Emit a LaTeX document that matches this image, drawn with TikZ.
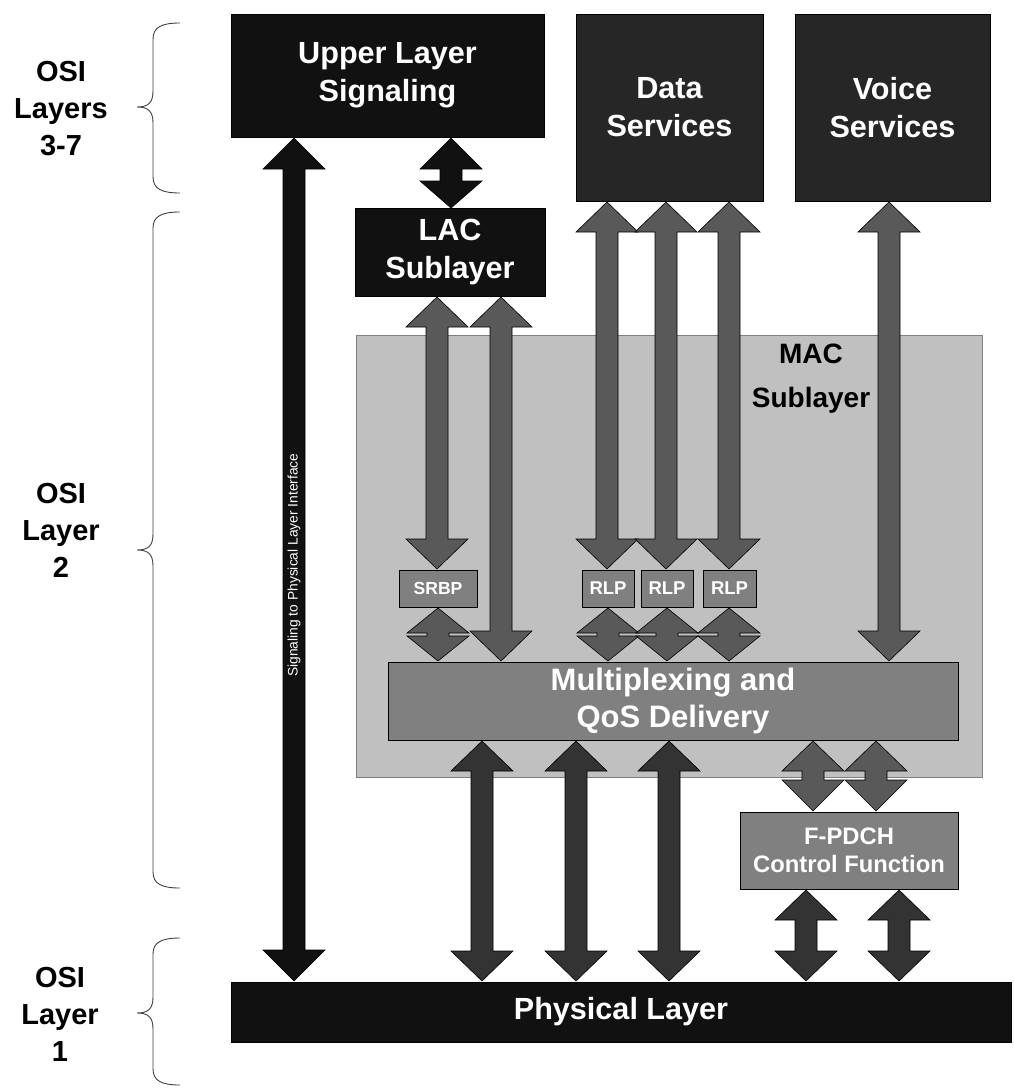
\documentclass[tikz,border=0pt]{standalone}
\usepackage{fontspec}
\setmainfont{Liberation Sans}
\definecolor{blk}{HTML}{111111}
\definecolor{dk}{HTML}{262626}
\definecolor{arrmid}{HTML}{595959}
\definecolor{arrlow}{HTML}{333333}
\definecolor{boxg}{HTML}{808080}
\definecolor{macg}{HTML}{C0C0C0}
\newcommand\dblarr[6]{% colour, x, ytop, ybot, head top, head bottom
  \filldraw[fill=#1, draw=black, line width=0.6pt, line join=miter]
    (#2,#3) -- (#2+31,#3+#5) -- (#2+11,#3+#5) -- (#2+11,#4-#6) -- (#2+31,#4-#6)
    -- (#2,#4) -- (#2-31,#4-#6) -- (#2-11,#4-#6) -- (#2-11,#3+#5) -- (#2-31,#3+#5) -- cycle;}
\newcommand\mybrace[3]{% top, tip, bottom
  \draw[bracestyle] (180,#1) .. controls (162,#1) and (153,#1+4) .. (153,#1+16)
    -- (153,#2-16) .. controls (153,#2-4) and (148,#2) .. (137,#2)
    .. controls (148,#2) and (153,#2+4) .. (153,#2+16)
    -- (153,#3-16) .. controls (153,#3-4) and (162,#3) .. (180,#3);}
\begin{document}
\begin{tikzpicture}[x=1pt,y=-1pt,
  box/.style={draw=black, line width=0.6pt, text=white, align=center, inner sep=0pt,
    font=\fontsize{30.6}{38}\selectfont\bfseries},
  smallbox/.style={box, fill=boxg, font=\fontsize{17.5}{19}\selectfont\bfseries},
  rlpbox/.style={smallbox, minimum height=37pt, font=\fontsize{18.5}{20}\selectfont\bfseries},
  osilabel/.style={align=center, font=\fontsize{29}{37}\selectfont\bfseries},
  bracestyle/.style={draw=black!75, line width=0.9pt}]
\useasboundingbox (0,0) rectangle (1013,1089);

% MAC sublayer background
\node[draw=boxg, fill=macg, line width=0.8pt, minimum width=626pt, minimum height=442pt, inner sep=0pt] (mac) at (669,556) {};
\node[align=center, font=\fontsize{28}{44}\selectfont\bfseries] (maclbl) at (811,379) {MAC\\Sublayer};

% boxes
\node[box, fill=blk, minimum width=313pt, minimum height=123pt] (ul) at (387.5,75.5) {Upper Layer\\Signaling};
\node[box, fill=dk, minimum width=187pt, minimum height=187pt] (data) at (669.5,107.5) {Data\\Services};
\node[box, fill=dk, minimum width=195pt, minimum height=187pt] (voice) at (892.5,107.5) {Voice\\Services};
\node[box, fill=blk, minimum width=190pt, minimum height=88pt] (lac) at (450,252) {LAC\\Sublayer};
\node[smallbox, minimum width=78pt, minimum height=37pt] (srbp) at (438,588.5) {SRBP};
\node[rlpbox, minimum width=52pt] (rlpa) at (608,588.5) {RLP};
\node[rlpbox, minimum width=52pt] (rlpb) at (667,588.5) {RLP};
\node[rlpbox, minimum width=53pt] (rlpc) at (729.5,588.5) {RLP};
\node[box, fill=boxg, minimum width=570pt, minimum height=78pt, font=\fontsize{31}{36.5}\selectfont\bfseries] (mux) at (673,701) {Multiplexing and\\QoS Delivery};
\node[box, fill=boxg, minimum width=218pt, minimum height=77pt, font=\fontsize{23.8}{28.5}\selectfont\bfseries] (fpdch) at (849,850.5) {F-PDCH\\Control Function};
\node[box, fill=blk, minimum width=780pt, minimum height=60pt] (phys) at (621,1012) {Physical Layer};

% block arrows
\dblarr{blk}{451}{138}{208}{31}{27}
\dblarr{blk}{294}{138}{981}{31}{31}
\dblarr{arrmid}{437}{297}{569}{30}{30}
\dblarr{arrmid}{501}{297}{661}{30}{30}
\dblarr{arrmid}{607}{202}{569}{30}{30}
\dblarr{arrmid}{666}{202}{569}{30}{30}
\dblarr{arrmid}{729}{202}{569}{30}{30}
\dblarr{arrmid}{889}{202}{661}{30}{30}
\dblarr{arrmid}{438}{608}{661}{25}{25}
\dblarr{arrmid}{608}{608}{661}{25}{25}
\dblarr{arrmid}{667}{608}{661}{25}{25}
\dblarr{arrmid}{729}{608}{661}{25}{25}
\dblarr{arrlow}{482}{741}{981}{30}{30}
\dblarr{arrlow}{576}{741}{981}{30}{30}
\dblarr{arrlow}{669}{741}{981}{30}{30}
\dblarr{arrmid}{813}{741}{811}{30}{31}
\dblarr{arrmid}{876}{741}{811}{30}{31}
\dblarr{arrlow}{806}{890}{981}{30}{30}
\dblarr{arrlow}{899}{890}{981}{30}{30}

\node[rotate=90, text=white, font=\fontsize{13.8}{16}\selectfont] (sigtxt) at (294,565) {Signaling to Physical Layer Interface};

% braces and OSI labels
\mybrace{23}{107}{193}
\mybrace{212}{550}{888}
\mybrace{938}{1013}{1085}
\node[osilabel] (osi37) at (61,109) {OSI\\Layers\\3-7};
\node[osilabel] (osi2) at (61,530) {OSI\\Layer\\2};
\node[osilabel] (osi1) at (60,1014) {OSI\\Layer\\1};
\end{tikzpicture}
\end{document}
